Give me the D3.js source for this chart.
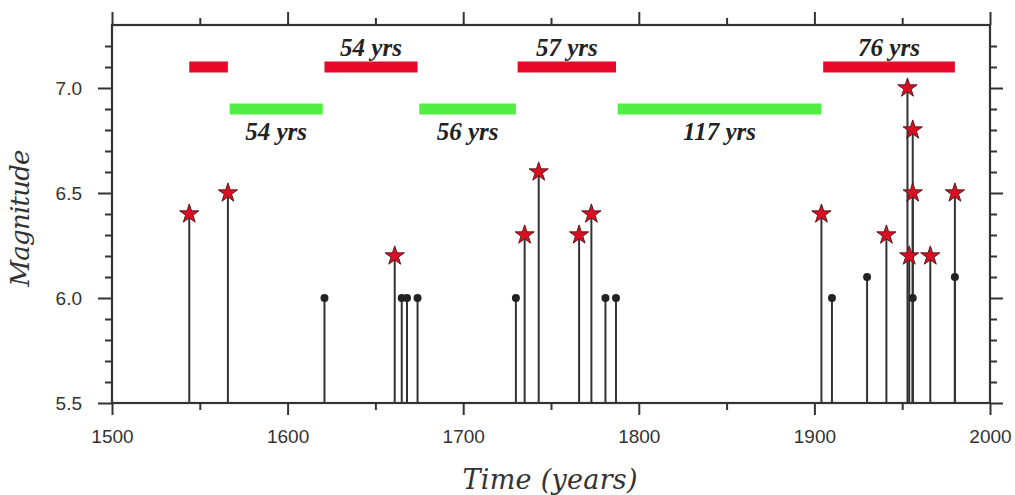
<!DOCTYPE html>
<html>
<head>
<meta charset="utf-8">
<script src="https://cdn.jsdelivr.net/npm/d3@7"></script>
<style>
  html, body { margin: 0; padding: 0; background: #fff; }
  svg { display: block; }
</style>
</head>
<body>
<svg id="chart" width="1015" height="495"></svg>
<script>
// Large events (M >= 6.2), drawn as stars
const starYears = [1544, 1566, 1661, 1735, 1743, 1766, 1773, 1904, 1941, 1953, 1954, 1956, 1956, 1966, 1980];
const starMags  = [6.4,  6.5,  6.2,  6.3,  6.6,  6.3,  6.4,  6.4,  6.3,  7.0,  6.2,  6.8,  6.5,  6.2,  6.5];

// Moderate events (M 6.0 - 6.1), drawn as dots
const dotYears = [1621, 1665, 1668, 1674, 1730, 1781, 1787, 1910, 1930, 1956, 1980];
const dotMags  = [6.0,  6.0,  6.0,  6.0,  6.0,  6.0,  6.0,  6.0,  6.1,  6.0,  6.1];

// Active (red) and quiet (green) periods
const activeStart = [1544, 1621, 1731, 1905];
const activeEnd   = [1566, 1674, 1787, 1980];
const activeLabel = ["", "54 yrs", "57 yrs", "76 yrs"];
const activeLevel = 7.1;

const quietStart = [1567, 1675, 1788];
const quietEnd   = [1620, 1730, 1904];
const quietLabel = ["54 yrs", "56 yrs", "117 yrs"];
const quietLevel = 6.9;

// Axis ticks
const xMajorTicks = [1500, 1600, 1700, 1800, 1900, 2000];
const xMinorTicks = [1550, 1650, 1750, 1850, 1950];
const yMajorTicks = [5.5, 6.0, 6.5, 7.0];
const yMinorTicks = [5.6, 5.7, 5.8, 5.9, 6.1, 6.2, 6.3, 6.4, 6.6, 6.7, 6.8, 6.9, 7.1, 7.2];

const plotLeft = 112, plotRight = 990, plotTop = 25, plotBottom = 403;
const ink = "#333";

const svg = d3.select("#chart");
const x = d3.scaleLinear().domain([1500, 2000]).range([plotLeft, plotRight]);
const y = d3.scaleLinear().domain([5.5, 7.3]).range([plotBottom, plotTop]);

// Period bars
function periodBars(starts, ends, labels, level, color, cls, labelAbove) {
  const rows = starts.map((s, i) => ({ s, e: ends[i], label: labels[i] }));
  const g = svg.append("g").attr("class", cls);
  g.selectAll("rect").data(rows).join("rect")
    .attr("x", d => x(d.s))
    .attr("width", d => x(d.e) - x(d.s))
    .attr("y", y(level) - 5.5)
    .attr("height", 11)
    .attr("fill", color);
  g.selectAll("text").data(rows.filter(d => d.label)).join("text")
    .attr("x", d => x((d.s + d.e) / 2))
    .attr("y", labelAbove ? y(level) - 11 : y(level) + 31)
    .attr("text-anchor", "middle")
    .attr("font-family", "'Liberation Serif', 'Times New Roman', serif")
    .attr("font-style", "italic")
    .attr("font-weight", "bold")
    .attr("font-size", 25)
    .attr("fill", "#222")
    .text(d => d.label);
}
periodBars(activeStart, activeEnd, activeLabel, activeLevel, "#e8082a", "active", true);
periodBars(quietStart, quietEnd, quietLabel, quietLevel, "#52ee46", "quiet", false);

// Stems
const events = starYears.map((yr, i) => ({ yr, m: starMags[i], star: true }))
  .concat(dotYears.map((yr, i) => ({ yr, m: dotMags[i], star: false })));
svg.append("g").selectAll("line").data(events).join("line")
  .attr("x1", d => x(d.yr)).attr("x2", d => x(d.yr))
  .attr("y1", y(5.5)).attr("y2", d => y(d.m))
  .attr("stroke", ink).attr("stroke-width", 2);

// Dots
svg.append("g").selectAll("circle").data(events.filter(d => !d.star)).join("circle")
  .attr("cx", d => x(d.yr)).attr("cy", d => y(d.m)).attr("r", 4)
  .attr("fill", "#222");

// Stars
const star = d3.symbol().type(d3.symbolStar).size(115);
svg.append("g").selectAll("path").data(events.filter(d => d.star)).join("path")
  .attr("transform", d => `translate(${x(d.yr)},${y(d.m)})`)
  .attr("d", star)
  .attr("fill", "#dc0f22")
  .attr("stroke", "#5a1a1e")
  .attr("stroke-width", 1);

// Axes
function styleAxis(g) {
  g.select(".domain").remove();
  g.selectAll(".tick line").attr("stroke", ink).attr("stroke-width", 2);
  g.selectAll(".tick text")
    .attr("font-family", "'Liberation Sans', Arial, Helvetica, sans-serif")
    .attr("font-size", 19)
    .attr("fill", ink);
}
const fmtYear = d3.format("d");
const fmtMag = d3.format(".1f");

svg.append("g").attr("transform", `translate(0,${plotBottom})`)
  .call(d3.axisBottom(x).tickValues(xMajorTicks).tickSize(12).tickPadding(15).tickFormat(fmtYear)).call(styleAxis);
svg.append("g").attr("transform", `translate(0,${plotBottom})`)
  .call(d3.axisBottom(x).tickValues(xMinorTicks).tickSize(7).tickFormat("")).call(styleAxis);
svg.append("g").attr("transform", `translate(0,${plotTop})`)
  .call(d3.axisTop(x).tickValues(xMajorTicks).tickSize(13).tickFormat("")).call(styleAxis);
svg.append("g").attr("transform", `translate(0,${plotTop})`)
  .call(d3.axisTop(x).tickValues(xMinorTicks).tickSize(7).tickFormat("")).call(styleAxis);

svg.append("g").attr("transform", `translate(${plotLeft},0)`)
  .call(d3.axisLeft(y).tickValues(yMajorTicks).tickSize(14).tickPadding(16).tickFormat(fmtMag)).call(styleAxis);
svg.append("g").attr("transform", `translate(${plotLeft},0)`)
  .call(d3.axisLeft(y).tickValues(yMinorTicks).tickSize(7).tickFormat("")).call(styleAxis);
svg.append("g").attr("transform", `translate(${plotRight},0)`)
  .call(d3.axisRight(y).tickValues(yMajorTicks).tickSize(13).tickFormat("")).call(styleAxis);
svg.append("g").attr("transform", `translate(${plotRight},0)`)
  .call(d3.axisRight(y).tickValues(yMinorTicks).tickSize(7).tickFormat("")).call(styleAxis);

// Frame
svg.append("rect")
  .attr("x", plotLeft).attr("y", plotTop)
  .attr("width", plotRight - plotLeft).attr("height", plotBottom - plotTop)
  .attr("fill", "none").attr("stroke", ink).attr("stroke-width", 2.2);

// Axis titles
svg.append("text")
  .attr("x", 550).attr("y", 489)
  .attr("text-anchor", "middle")
  .attr("font-family", "'DejaVu Serif', serif")
  .attr("font-style", "italic")
  .attr("font-size", 27)
  .attr("textLength", 175)
  .attr("fill", "#333")
  .text("Time (years)");

svg.append("text")
  .attr("transform", "translate(29,218) rotate(-90)")
  .attr("text-anchor", "middle")
  .attr("font-family", "'DejaVu Serif', serif")
  .attr("font-style", "italic")
  .attr("font-size", 26)
  .attr("textLength", 137)
  .attr("fill", "#333")
  .text("Magnitude");
</script>
</body>
</html>
